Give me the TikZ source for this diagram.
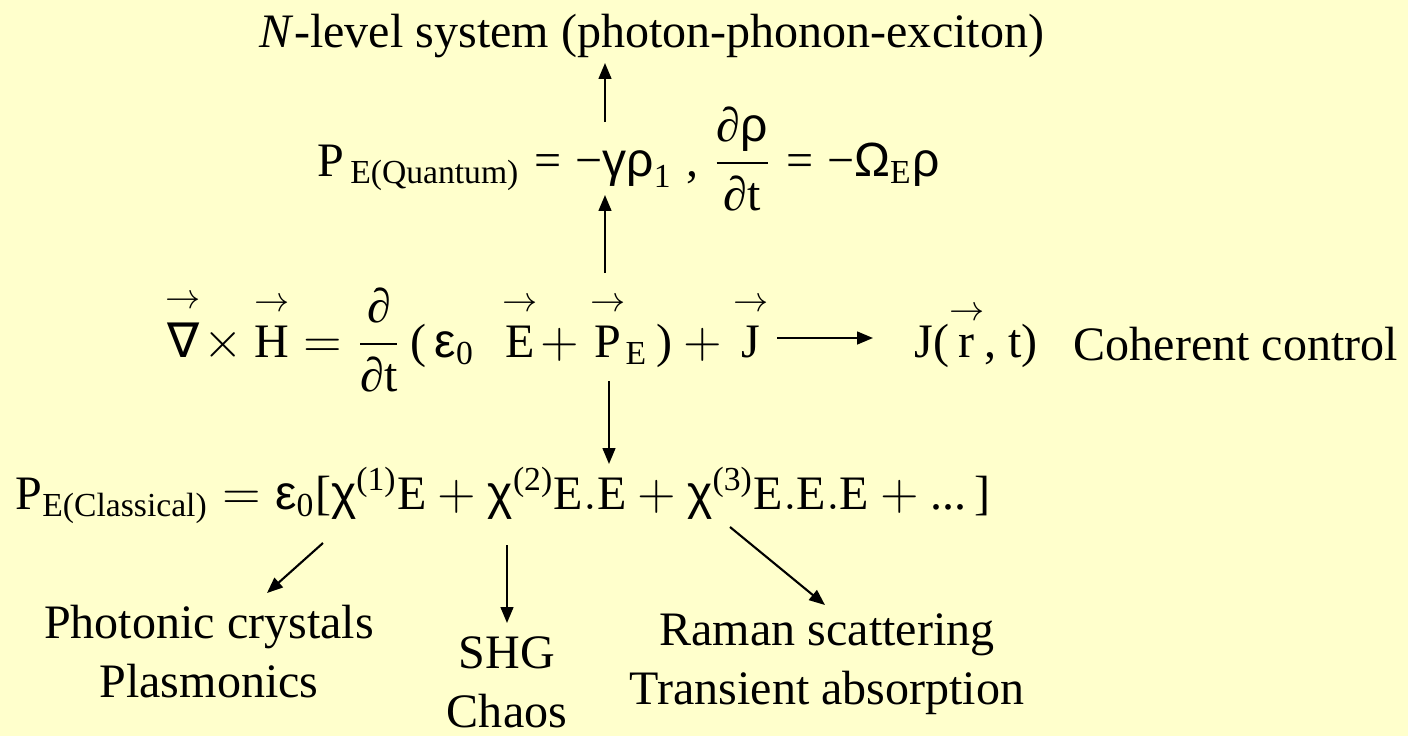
\documentclass[tikz,border=0pt]{standalone}
\usepackage{amsmath}
\usepackage{fontspec}
\setmainfont{Liberation Serif}
\newfontfamily\grk{Liberation Sans}
\newfontfamily\symb{DejaVu Sans}
\usepackage{tikz}
\usetikzlibrary{arrows.meta}
\definecolor{SlideYellow}{RGB}{255,255,204}
\newcommand{\gk}[1]{\text{\grk #1}}
\newcommand{\rmtxt}[1]{\text{#1}}
\newcommand{\vect}[1]{\overset{\raisebox{0.08em}{$\scriptstyle\rightarrow$}}{#1}}

\begin{document}
\begin{tikzpicture}[x=0.01cm, y=-0.01cm, >={Triangle[length=4.5pt,width=3.6pt]},
    every node/.style={font=\fontsize{13.66}{16.5}\selectfont, inner sep=0pt},
    link/.style={->, line width=0.6pt}]
\fill[SlideYellow] (0,0) rectangle (1408,736);
% equations
\node[anchor=base] (nlevel) at (652,47) {\textit{N}-level system (photon-phonon-exciton)};
\node[anchor=base west] (quantum) at (317,176)
    {$\mathrm{P}_{\,\rmtxt{E(Quantum)}}\mathrel{\rmtxt{=}}\rmtxt{−}\gk{γρ}_{\rmtxt{1}}\;\rmtxt{,}\;\dfrac{\rmtxt{∂}\gk{ρ}}{\rmtxt{∂t}}\mathrel{\rmtxt{=}}\rmtxt{−}\gk{Ω}_{\rmtxt{E}}\gk{ρ}$};
\node[anchor=base west] (maxwell) at (165,357)
    {$\vect{\text{\symb ∇}}\!\times\vect{\mathrm{H}} = \dfrac{\rmtxt{∂}}{\rmtxt{∂t}}\,\rmtxt{(}\,\gk{ε}_{\rmtxt{0}}\;\;\vect{\mathrm{E}}\!+\vect{\mathrm{P}}_{\rmtxt{E}}\,\rmtxt{)} + \vect{\mathrm{J}}$};
\node[anchor=base west] (jfield) at (914,357) {$\mathrm{J}\rmtxt{(}\vect{\mathrm{r}}\rmtxt{, t)}$};
\node[anchor=base west] (coherent) at (1073,360) {Coherent control};
\node[anchor=base west] (classical) at (15,509)
    {$\mathrm{P}_{\rmtxt{E(Classical)}} = \gk{ε}_{\rmtxt{0}}\rmtxt{[}\gk{χ}^{\rmtxt{(1)}}\mathrm{E} + \gk{χ}^{\rmtxt{(2)}}\mathrm{E.E} + \gk{χ}^{\rmtxt{(3)}}\mathrm{E.E.E} + \rmtxt{...}\,\rmtxt{]}$};
% applications
\node[anchor=base, align=center] (photonic) at (209,697) {Photonic crystals\\Plasmonics};
\node[anchor=base, align=center] (shg) at (507,727) {SHG\\Chaos};
\node[anchor=base, align=center] (raman) at (827,704) {Raman scattering\\Transient absorption};
% connector ends
\coordinate (gammaTop) at (605,122);
\coordinate (nlevelFoot) at (605,63);
\coordinate (polTop) at (605,273);
\coordinate (quantumFoot) at (605,195);
\coordinate (polFoot) at (609,381);
\coordinate (classicalTop) at (609,464);
\coordinate (jTail) at (777,338);
\coordinate (jHead) at (873,338);
\coordinate (chiOne) at (323,543);
\coordinate (photonicTip) at (267,593);
\coordinate (chiTwo) at (507,545);
\coordinate (shgTip) at (507,623);
\coordinate (chiThree) at (730,527);
\coordinate (ramanTip) at (825,605);
\draw[link] (gammaTop) -- (nlevelFoot);
\draw[link] (polTop) -- (quantumFoot);
\draw[link] (polFoot) -- (classicalTop);
\draw[link] (jTail) -- (jHead);
\draw[link] (chiOne) -- (photonicTip);
\draw[link] (chiTwo) -- (shgTip);
\draw[link] (chiThree) -- (ramanTip);
\end{tikzpicture}
\end{document}
